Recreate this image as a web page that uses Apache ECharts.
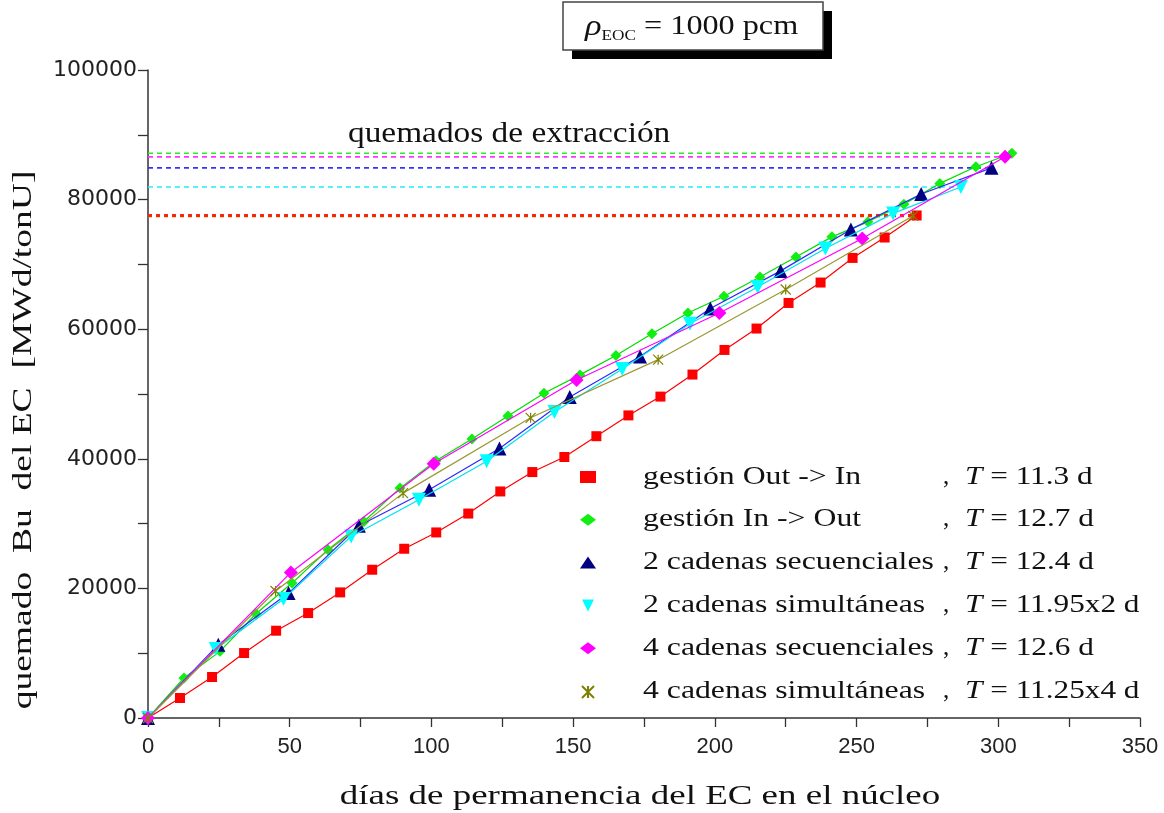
<!DOCTYPE html>
<html>
<head>
<meta charset="utf-8">
<script src="https://cdn.jsdelivr.net/npm/echarts@6/dist/echarts.min.js"></script>
<style>
html,body{margin:0;padding:0;background:#fff;}
#chart{width:1164px;height:813px;}
</style>
</head>
<body>
<div id="chart"></div>
<script>
// ---- data ----
var seriesNames = ['gestión Out -> In', 'gestión In -> Out', '2 cadenas secuenciales',
  '2 cadenas simultáneas', '4 cadenas secuenciales', '4 cadenas simultáneas'];
var tLabels = ['11.3 d', '12.7 d', '12.4 d', '11.95x2 d', '12.6 d', '11.25x4 d'];

var daysOutIn = [0, 11.3, 22.6, 33.9, 45.2, 56.5, 67.8, 79.1, 90.4, 101.7, 113, 124.3, 135.6, 146.9,
  158.2, 169.5, 180.8, 192.1, 203.4, 214.7, 226, 237.3, 248.6, 259.9, 271.2];
var buOutIn = [0, 3085, 6324, 10026, 13470, 16195, 19383, 22879, 26118, 28637, 31550, 34960, 37953,
  40279, 43488, 46698, 49600, 53000, 56800, 60100, 64050, 67200, 71000, 74150, 77550];

var daysInOut = [0, 12.7, 25.4, 38.1, 50.8, 63.5, 76.2, 88.9, 101.6, 114.3, 127, 139.7, 152.4, 165.1,
  177.8, 190.5, 203.2, 215.9, 228.6, 241.3, 254, 266.7, 279.4, 292.1, 304.8];
var buInOut = [0, 6170, 10283, 16093, 20823, 25964, 30334, 35476, 39700, 43070, 46589, 50109, 52950,
  55950, 59300, 62500, 65080, 68060, 71150, 74250, 76570, 79300, 82500, 85070, 87150];

var days2Sec = [0, 24.8, 49.6, 74.4, 99.2, 124, 148.8, 173.6, 198.4, 223.2, 248, 272.8, 297.6];
var bu2Sec = [0, 11311, 19280, 29666, 35219, 41576, 49535, 55800, 63180, 69000, 75400, 80860, 84900];

var days2Sim = [0, 23.9, 47.8, 71.7, 95.6, 119.5, 143.4, 167.3, 191.2, 215.1, 239, 262.9, 286.8];
var bu2Sim = [0, 10643, 18355, 28021, 33676, 39612, 47209, 53850, 60850, 66520, 72460, 77870, 81950];

var days4Sec = [0, 50.4, 100.8, 151.2, 201.6, 252, 302.4];
var bu4Sec = [0, 22468, 39229, 52171, 62500, 74000, 86600];

var days4Sim = [0, 45, 90, 135, 180, 225, 270];
var bu4Sim = [0, 19600, 34704, 46326, 55300, 66120, 77500];

var xTicks = [0, 50, 100, 150, 200, 250, 300, 350];
var yTicks = [0, 20000, 40000, 60000, 80000, 100000];

// ---- build ----
function pairs(xs, ys) { return xs.map(function (x, i) { return [x, ys[i]]; }); }

var xsAll = [daysOutIn, daysInOut, days2Sec, days2Sim, days4Sec, days4Sim];
var ysAll = [buOutIn, buInOut, bu2Sec, bu2Sim, bu4Sec, bu4Sim];
var lineColors = ['#ff0000', '#00dd00', '#2a2aff', '#00e0f0', '#ff00ff', '#999933'];
var markColors = ['#ff0000', '#11ee11', '#000080', '#00ffff', '#ff00ff', '#808000'];
var dashColors = ['#ff2200', '#22ee22', '#3333ff', '#22eeff', '#ff33ff', '#999933'];
var asterisk = 'path://M0,0 L10,10 M10,0 L0,10 M5,0 L5,10';
var symbols = ['rect', 'diamond', 'triangle', 'path://M0,0 L10,0 L5,10 Z', 'diamond', asterisk];
var symSizes = [10, 11, 14, 14, 14, 10];

var series = [];
var dashOrder = [5, 0, 3, 2, 4, 1];
dashOrder.forEach(function (i) {
  var xs = xsAll[i], ys = ysAll[i];
  var lastX = xs[xs.length - 1], lastY = ys[ys.length - 1];
  var isRed = (i === 0 || i === 5);
  series.push({
    type: 'line', silent: true, symbol: 'none', z: 1,
    data: [[0, lastY], [lastX, lastY]],
    lineStyle: { color: dashColors[i], width: isRed ? 3 : 1.6, type: isRed ? [4, 4] : [5, 4] }
  });
});

var drawOrder = [5, 3, 2, 4, 1, 0];
drawOrder.forEach(function (i) {
  var isAst = (i === 5);
  series.push({
    name: seriesNames[i],
    type: 'line',
    data: pairs(xsAll[i], ysAll[i]),
    symbol: symbols[i],
    symbolSize: symSizes[i],
    showAllSymbol: true,
    z: 3 + i,
    lineStyle: { color: lineColors[i], width: 1.2 },
    itemStyle: isAst ? { color: 'transparent', borderColor: markColors[i], borderWidth: 1.2 }
                     : { color: markColors[i], borderWidth: 0 }
  });
});

var serif = 'Liberation Serif, Times New Roman, serif';

// legend texts (drawn as stretched text to match the wide serif face)
var rowY0 = 477, rowStep = 42.8;
var legendTexts = [];
seriesNames.forEach(function (name, i) {
  var y = rowY0 + i * rowStep;
  legendTexts.push({ type: 'text', z: 60, x: 643, y: y, scaleX: 1.27,
    style: { text: name, fontFamily: serif, fontSize: 25, fill: '#111', textAlign: 'left', textVerticalAlign: 'middle' } });
  legendTexts.push({ type: 'text', z: 60, x: 943, y: y,
    style: { text: ',', fontFamily: serif, fontSize: 25, fill: '#111', textAlign: 'left', textVerticalAlign: 'middle' } });
  legendTexts.push({ type: 'text', z: 60, x: 965, y: y, scaleX: 1.25,
    style: { text: '{c|T}{d| = ' + tLabels[i] + '}', textAlign: 'left', textVerticalAlign: 'middle',
      rich: {
        c: { fontFamily: serif, fontSize: 25, fill: '#111', fontStyle: 'italic' },
        d: { fontFamily: serif, fontSize: 25, fill: '#111' }
      } } });
});

var chart = echarts.init(document.getElementById('chart'), null, { renderer: 'canvas' });

chart.setOption({
  backgroundColor: '#ffffff',
  animation: false,
  grid: { left: 148, right: 24, top: 70, bottom: 95, containLabel: false },
  xAxis: {
    type: 'value', min: 0, max: 350, interval: 50,
    axisLine: { show: true, lineStyle: { color: '#333', width: 1.5 } },
    axisTick: { show: true, inside: false, length: 9, lineStyle: { color: '#333', width: 1.3 } },
    minorTick: { show: true, splitNumber: 2, length: 9, lineStyle: { color: '#333', width: 1.3 } },
    splitLine: { show: false },
    axisLabel: { fontFamily: 'Liberation Sans, Arial, sans-serif', fontSize: 22, color: '#222', margin: 18,
      formatter: function (v) { return xTicks.indexOf(v) >= 0 ? String(v) : ''; } }
  },
  yAxis: {
    type: 'value', min: 0, max: 100000, interval: 20000,
    axisLine: { show: true, lineStyle: { color: '#333', width: 1.5 } },
    axisTick: { show: true, inside: false, length: 10, lineStyle: { color: '#333', width: 1.3 } },
    minorTick: { show: true, splitNumber: 2, length: 10, lineStyle: { color: '#333', width: 1.3 } },
    splitLine: { show: false },
    axisLabel: { fontFamily: 'DejaVu Sans, sans-serif', fontSize: 22, color: '#222', margin: 11,
      formatter: function (v) { return yTicks.indexOf(v) >= 0 ? String(v) : ''; } }
  },
  legend: {
    orient: 'vertical', left: 575, top: 466,
    itemWidth: 16, itemHeight: 12, itemGap: 30.8,
    data: [0, 1, 2, 3, 4, 5].map(function (i) {
      return { name: seriesNames[i], icon: symbols[i] };
    }),
    selectedMode: false,
    formatter: function () { return ''; },
    textStyle: { fontSize: 10, lineHeight: 12 }
  },
  graphic: [
    { type: 'rect', z: 100, shape: { x: 572, y: 11, width: 260, height: 48 }, style: { fill: '#000' } },
    { type: 'rect', z: 101, shape: { x: 563, y: 2, width: 260, height: 48 },
      style: { fill: '#fff', stroke: '#444', lineWidth: 1.5 } },
    { type: 'text', z: 102, x: 585, y: 27, scaleX: 1.15,
      style: {
        text: '{r|ρ}{s|EOC}{n| = 1000 pcm}', textAlign: 'left', textVerticalAlign: 'middle',
        rich: {
          r: { fontFamily: serif, fontSize: 30, fontStyle: 'italic', fill: '#111', lineHeight: 34 },
          s: { fontFamily: serif, fontSize: 15, fill: '#111', verticalAlign: 'bottom', lineHeight: 34 },
          n: { fontFamily: serif, fontSize: 28, fill: '#111', lineHeight: 34 }
        }
      }
    },
    { type: 'text', z: 50, x: 348, y: 134, scaleX: 1.15,
      style: { text: 'quemados de extracción', fontFamily: serif, fontSize: 29, fill: '#111',
        textAlign: 'left', textVerticalAlign: 'middle' } },
    { type: 'text', z: 50, x: 640, y: 797, scaleX: 1.32,
      style: { text: 'días de permanencia del EC en el núcleo', fontFamily: serif, fontSize: 28, fill: '#111',
        textAlign: 'center', textVerticalAlign: 'middle' } },
    { type: 'text', z: 50, x: 24, y: 440, rotation: Math.PI / 2, scaleX: 1.34,
      style: { text: 'quemado  Bu  del EC  [MWd/tonU]', fontFamily: serif, fontSize: 28, fill: '#111',
        textAlign: 'center', textVerticalAlign: 'middle' } }
  ].concat(legendTexts),
  series: series
});
</script>
</body>
</html>
